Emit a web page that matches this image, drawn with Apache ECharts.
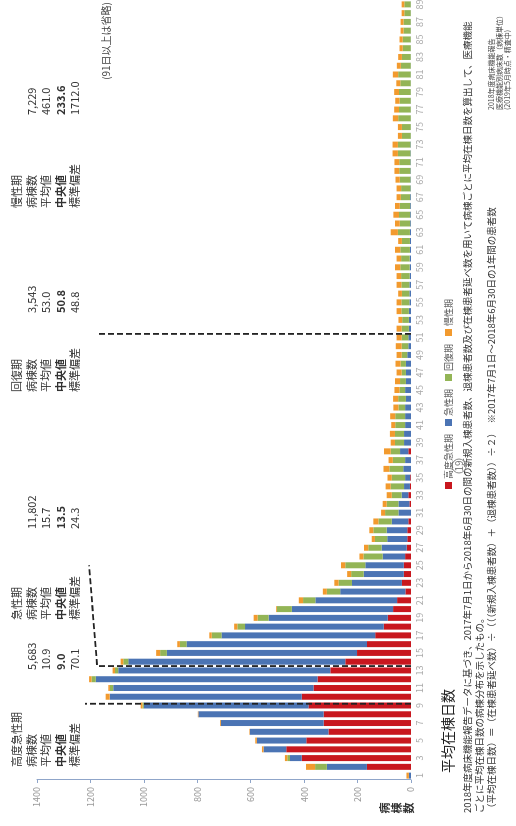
<!DOCTYPE html>
<html>
<head>
<meta charset="utf-8">
<script src="https://cdn.jsdelivr.net/npm/echarts@6.0.0/dist/echarts.min.js"></script>
<style>
html, body { margin: 0; padding: 0; background: #fff; width: 516px; height: 826px; overflow: hidden; }
/* chart is laid out landscape and turned a quarter turn, like the printed page */
#chart { position: absolute; left: 0; top: 0; width: 826px; height: 516px;
         transform-origin: 0 0; transform: translate(0, 826px) rotate(-90deg); }
</style>
</head>
<body>
<div id="chart"></div>
<script>
var days = ['1','2','3','4','5','6','7','8','9','10','11','12','13','14','15','16','17','18','19','20',
  '21','22','23','24','25','26','27','28','29','30','31','32','33','34','35','36','37','38','39','40',
  '41','42','43','44','45','46','47','48','49','50','51','52','53','54','55','56','57','58','59','60',
  '61','62','63','64','65','66','67','68','69','70','71','72','73','74','75','76','77','78','79','80',
  '81','82','83','84','85','86','87','88','89'];

// 高度急性期
var highAcute = [0,165,409,467,392,309,327,327,384,409, 365,350,302,246,202,165,134,102,87,67,
  52,21,34,27,27,22,16,14,14,10, 0,6,10,4,3,0,0,10,0,0,
  0,0,0,0,0,0,0,0,0,0, 0,0,0,0,0,0,0,0,0,0,
  0,0,0,0,0,0,0,0,0,0, 0,0,0,0,0,0,0,0,0,0, 0,0,0,0,0,0,0,0,0];
// 急性期
var acute = [8,150,44,85,185,294,385,469,616,719, 750,830,794,812,712,675,575,519,446,379,
  306,244,187,150,144,84,94,75,77,62, 47,41,25,22,19,29,22,31,26,26,
  22,22,22,19,22,19,19,19,14,10, 10,8,8,8,6,6,6,5,5,5,
  4,4,4,3,3,3,3,2,2,2, 2,2,2,1,1,1,1,1,1,1, 1,1,1,1,1,1,1,1,1];
// 回復期
var recovery = [0,44,10,0,0,0,0,0,5,0, 12,16,12,19,25,25,37,29,41,56,
  46,50,50,47,75,72,50,46,50,50, 50,44,37,50,50,52,46,35,34,34,
  37,37,25,29,21,22,16,20,21,25, 25,27,25,28,30,28,30,32,35,32,
  36,30,45,39,42,39,35,35,40,42, 42,47,47,33,33,47,44,42,44,39, 47,37,33,30,30,27,27,24,24];
// 慢性期
var chronic = [9,34,9,6,6,2,3,2,7,15, 6,9,9,10,15,10,9,12,15,3,
  16,15,16,15,16,15,16,12,15,19, 15,15,19,19,16,22,16,25,16,19,
  15,19,19,19,19,19,19,19,19,22, 19,19,14,18,18,14,18,17,20,17,
  20,14,27,18,21,18,16,17,16,18, 18,20,20,15,15,20,18,16,18,15, 20,15,14,12,12,11,11,10,10];

var seriesNames = ['高度急性期', '急性期', '回復期', '慢性期'];
var seriesColors = ['#c8171e', '#4b74b4', '#93b556', '#f29a2e'];

var statLabels = ['病棟数', '平均値', '中央値', '標準偏差'];
var wardCounts = ['5,683', '11,802', '3,543', '7,229'];
var meanDays = ['10.9', '15.7', '53.0', '461.0'];
var medianDays = ['9.0', '13.5', '50.8', '233.6'];
var sdDays = ['70.1', '24.3', '48.8', '1712.0'];

// where the dashed median leaders sit on the day axis
var medianMarks = [9.2, 13.5, 51.4];
var leaderEnds = [1220, 1175, 1175];

var footnotes = [
  '2018年度病床機能報告データに基づき、2017年7月1日から2018年6月30日の間の新規入棟患者数、退棟患者数及び在棟患者延べ数を用いて病棟ごとに平均在棟日数を算出して、医療機能',
  'ごとに平均在棟日数の病棟分布を示したもの。',
  '（平均在棟日数）＝（在棟患者延べ数）÷（（（新規入棟患者数）＋（退棟患者数））÷２）　※2017年7月1日～2018年6月30日の1年間の患者数'
];
var sourceNotes = ['2018年度病床機能報告', '医療機能別病床数（病棟単位）', '(2019年5月時点・精査中)'];

var FONT = '"Noto Sans CJK JP", "Noto Sans", sans-serif';

var myChart = echarts.init(document.getElementById('chart'));

var blockLabelX = [59, 206, 434, 618];
var blockValueX = [156, 297, 513, 711];
var rowY = [17, 31.5, 46, 60.5, 75];

var graphics = [];
for (var b = 0; b < 4; b++) {
  var vals = [wardCounts[b], meanDays[b], medianDays[b], sdDays[b]];
  graphics.push({ type: 'text', x: blockLabelX[b], y: rowY[0],
    style: { text: seriesNames[b], font: '11px ' + FONT, fill: '#333', verticalAlign: 'middle', textVerticalAlign: 'middle' } });
  for (var r = 0; r < 4; r++) {
    var bold = r === 2 ? 'bold ' : '';
    graphics.push({ type: 'text', x: blockLabelX[b], y: rowY[r + 1],
      style: { text: statLabels[r], font: bold + '11px ' + FONT, fill: '#333', verticalAlign: 'middle', textVerticalAlign: 'middle' } });
    graphics.push({ type: 'text', x: blockValueX[b], y: rowY[r + 1],
      style: { text: vals[r], font: bold + '11px ' + FONT, fill: '#333', verticalAlign: 'middle', textVerticalAlign: 'middle' } });
  }
}
graphics.push({ type: 'text', x: 824, y: 106,
  style: { text: '(91日以上は省略)', font: '10px ' + FONT, fill: '#444', align: 'right', textAlign: 'right', verticalAlign: 'middle', textVerticalAlign: 'middle' } });
graphics.push({ type: 'text', x: 18, y: 397,
  style: { text: '病\n棟\n数', font: 'bold 11px ' + FONT, lineHeight: 12, fill: '#333', align: 'center', textAlign: 'center', verticalAlign: 'middle', textVerticalAlign: 'middle' } });
graphics.push({ type: 'text', x: 53, y: 448,
  style: { text: '平均在棟日数', font: '14px ' + FONT, fill: '#222', verticalAlign: 'middle', textVerticalAlign: 'middle' } });
for (var f = 0; f < footnotes.length; f++) {
  graphics.push({ type: 'text', x: 13, y: 467 + f * 12,
    style: { text: footnotes[f], font: '9.5px ' + FONT, fill: '#333', verticalAlign: 'middle', textVerticalAlign: 'middle' } });
}
for (var s = 0; s < sourceNotes.length; s++) {
  graphics.push({ type: 'text', x: 716, y: 491 + s * 8,
    style: { text: sourceNotes[s], font: '7px ' + FONT, fill: '#444', verticalAlign: 'middle', textVerticalAlign: 'middle' } });
}
graphics.push({ type: 'circle', shape: { cx: 360, cy: 459, r: 7 }, style: { fill: 'none', stroke: '#888', lineWidth: 1 } });
graphics.push({ type: 'text', x: 360, y: 459,
  style: { text: '19', font: '10px ' + FONT, fill: '#777', align: 'center', textAlign: 'center', verticalAlign: 'middle', textVerticalAlign: 'middle' } });

var barData = [highAcute, acute, recovery, chronic];
var series = [];
for (var i = 0; i < 4; i++) {
  series.push({
    name: seriesNames[i],
    type: 'bar',
    stack: 'wards',
    barWidth: 6,
    itemStyle: { color: seriesColors[i] },
    data: barData[i]
  });
}
for (var m = 0; m < medianMarks.length; m++) {
  var pts = [[medianMarks[m], 0], [medianMarks[m], leaderEnds[m]]];
  if (m === 1) pts.push([25, 1205]);
  series.push({
    type: 'line',
    xAxisIndex: 1,
    symbol: 'none',
    silent: true,
    z: 5,
    lineStyle: { color: '#222', width: 1.8, type: [6, 3] },
    data: pts
  });
}

var option = {
  animation: false,
  backgroundColor: '#fff',
  textStyle: { fontFamily: FONT },
  grid: { left: 46, right: 0, top: 37, bottom: 105, containLabel: false, outerBoundsMode: 'none' },
  legend: {
    data: seriesNames,
    left: 332, top: 439,
    icon: 'rect', itemWidth: 7, itemHeight: 7, itemGap: 8,
    textStyle: { fontSize: 9, color: '#555', padding: [0, 0, 0, -2] }
  },
  xAxis: [
    {
      type: 'category',
      data: days,
      axisLine: { show: false },
      axisTick: { show: false },
      axisLabel: { interval: 1, fontSize: 9, color: '#aaa', margin: 4 }
    },
    { type: 'value', min: 0.5, max: 89.5, show: false }
  ],
  yAxis: {
    type: 'value',
    min: 0, max: 1400, interval: 200,
    axisLine: { show: true, lineStyle: { color: '#8fa5c9', width: 1 } },
    axisTick: { show: true, length: 3, lineStyle: { color: '#8fa5c9' } },
    axisLabel: { fontSize: 9, color: '#999', margin: 7, formatter: function (v) { return String(v); } },
    splitLine: { show: false }
  },
  graphic: graphics,
  series: series
};

myChart.setOption(option);
</script>
</body>
</html>
